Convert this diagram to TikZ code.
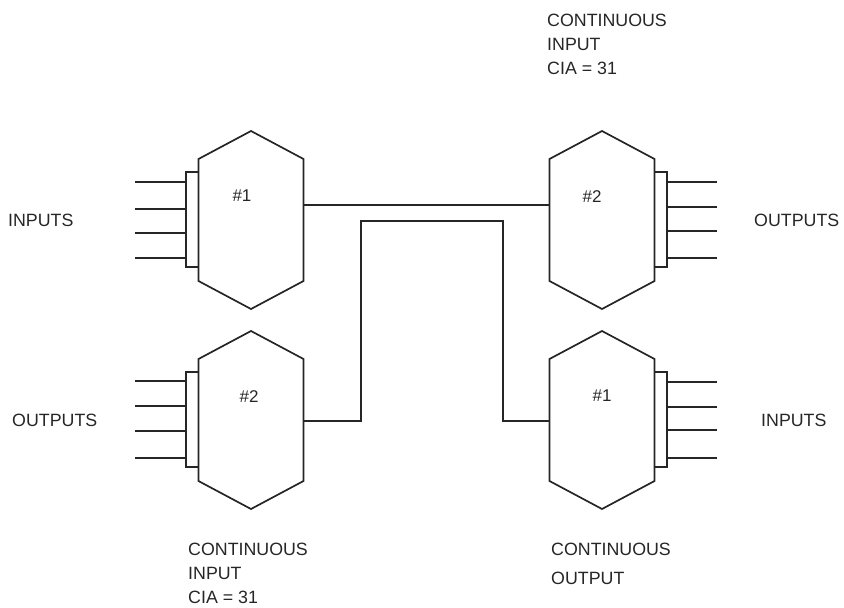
\documentclass[tikz,border=0pt]{standalone}
\usepackage{fontspec}
\setmainfont{Liberation Sans}
\usetikzlibrary{calc}

\tikzset{
  wire/.style={line width=1.7pt, line join=miter, color=black!85},
  lbl/.style={anchor=west, inner sep=0pt, font=\fontsize{17.8}{18}\selectfont, text=black!85},
  tag/.style={anchor=center, inner sep=0pt, font=\fontsize{17}{17}\selectfont, text=black!85}
}

\begin{document}
\begin{tikzpicture}[x=1pt,y=-1pt]
\useasboundingbox (0,0) rectangle (844,608);

% hexagon bodies
\foreach \name/\x/\y in {TL/251/220, BL/251/420, TR/602/220, BR/602/420} {
  \coordinate (\name) at (\x,\y);
  \draw[wire] ($(\name)+(-52.5,-61)$) -- ($(\name)+(0,-89)$) -- ($(\name)+(52.5,-61)$)
    -- ($(\name)+(52.5,61)$) -- ($(\name)+(0,89)$) -- ($(\name)+(-52.5,61)$) -- cycle;
}

% pin strips
\draw[wire] ($(TL)+(-52.5,-48)$) -- ++(-12.5,0) -- ++(0,95) -- ++(12.5,0);
\draw[wire] ($(BL)+(-52.5,-48)$) -- ++(-12.5,0) -- ++(0,95) -- ++(12.5,0);
\draw[wire] ($(TR)+(52.5,-48)$) -- ++(12.5,0) -- ++(0,95) -- ++(-12.5,0);
\draw[wire] ($(BR)+(52.5,-48)$) -- ++(12.5,0) -- ++(0,95) -- ++(-12.5,0);

% pins
\foreach \y in {182,209,233,258} \draw[wire] (135,\y) -- (186,\y);
\foreach \y in {381,406,431,458} \draw[wire] (135,\y) -- (186,\y);
\foreach \y in {182,207,231,258} \draw[wire] (667,\y) -- (717,\y);
\foreach \y in {382,407,430,458} \draw[wire] (667,\y) -- (717,\y);

% connection points
\coordinate (TLout) at (303.5,205);
\coordinate (TRin) at (549.5,205);
\coordinate (BLout) at (303.5,421);
\coordinate (BRin) at (549.5,421);

% connectors
\draw[wire] (TLout) -- (TRin);
\draw[wire] (BLout) -- (361,421) -- (361,221) -- (503,221) -- (503,421) -- (BRin);

% unit numbers
\node[tag] (numTL) at (242,196) {\#1};
\node[tag] (numBL) at (249,397) {\#2};
\node[tag] (numTR) at (592,197) {\#2};
\node[tag] (numBR) at (602,396) {\#1};

% side labels
\node[lbl] (inTL) at (8,220) {INPUTS};
\node[lbl] (outBL) at (12,420) {OUTPUTS};
\node[lbl] (outTR) at (754,220) {OUTPUTS};
\node[lbl] (inBR) at (761,420) {INPUTS};

% continuous labels
\node[lbl] (contTR) at (547,20) {CONTINUOUS};
\node[lbl] (inpTR) at (547,44) {INPUT};
\node[lbl] (ciaTR) at (547,68) {CIA = 31};
\node[lbl] (contBL) at (188,549) {CONTINUOUS};
\node[lbl] (inpBL) at (188,573) {INPUT};
\node[lbl] (ciaBL) at (188,597) {CIA = 31};
\node[lbl] (contBR) at (551,549) {CONTINUOUS};
\node[lbl] (outBR) at (551,578) {OUTPUT};

\end{tikzpicture}
\end{document}
